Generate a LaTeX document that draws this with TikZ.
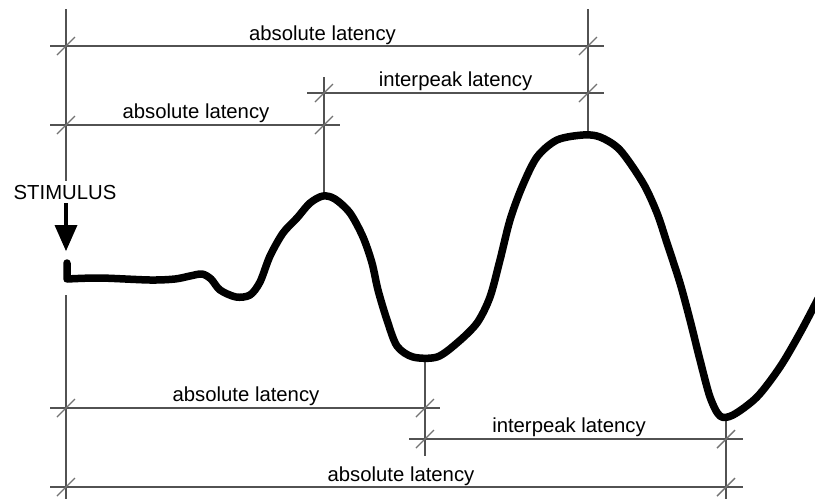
\documentclass[tikz,border=0pt]{standalone}
\usepackage{fontspec}
\setmainfont{Liberation Sans}
\begin{document}
\begin{tikzpicture}[x=1pt,y=-1pt,
  dimline/.style={draw=black!68,line width=1.4pt},
  tickmark/.style={draw=black!55,line width=1.4pt},
  lbl/.style={anchor=base,inner sep=0pt,font=\fontsize{20.3}{24}\selectfont},
  wave/.style={draw=black,line width=7.5pt,line cap=round,line join=round}]
\useasboundingbox (0,0) rectangle (815,499);
\fill[white] (0,0) rectangle (815,499);
% vertical extension lines
\draw[dimline] (66,9) -- (66,181);
\draw[dimline] (66,295) -- (66,499);
\draw[dimline] (324,77) -- (324,196);
\draw[dimline] (588,9) -- (588,135);
\draw[dimline] (425,357) -- (425,456);
\draw[dimline] (726,417) -- (726,499);
% horizontal dimension lines
\draw[dimline] (50,46) -- (604,46);
\draw[dimline] (307,93) -- (604,93);
\draw[dimline] (50,125) -- (340,125);
\draw[dimline] (50,408) -- (440,408);
\draw[dimline] (409,439) -- (743,439);
\draw[dimline] (50,487) -- (743,487);
% ticks
\foreach \p in {(66,46),(588,46),(324,93),(588,93),(66,125),(324,125),(66,408),(425,408),(425,439),(726,439),(66,487),(726,487)}{
  \draw[tickmark] \p ++(-9,9) -- ++(18,-18);
}
% labels
\node[lbl] (l1) at (322.5,40) {absolute latency};
\node[lbl] (l2) at (455.5,86) {interpeak latency};
\node[lbl] (l3) at (196,118) {absolute latency};
\node[lbl] (l4) at (246,401.5) {absolute latency};
\node[lbl] (l5) at (569,432) {interpeak latency};
\node[lbl] (l6) at (401,481) {absolute latency};
\node[lbl] (stim) at (65,199) {STIMULUS};
% stimulus arrow
\draw[line width=4pt] (66,203) -- (66,228);
\fill (54.5,225) -- (77.5,225) -- (66,251) -- cycle;
% waveform
\draw[wave] (67,263) -- plot[smooth,tension=0.5] coordinates {(67,279) (100,278) (150,280) (175,279) (190,276) (202,274) (211,279) (220,290) (236,297) (250,295) (260,282) (270,256) (283,233) (297,218) (310,203) (323,196) (335,199) (350,213) (363,237) (372,263) (378,290) (387,320) (397,346) (413,357) (437,357) (457,343) (477,323) (490,297) (500,260) (510,220) (522,187) (537,157) (557,140) (583,135) (600,137) (620,150) (643,183) (657,213) (667,243) (680,283) (690,320) (700,360) (710,397) (720,416) (733,415) (757,397) (780,367) (800,333) (820,295)};
\end{tikzpicture}
\end{document}
